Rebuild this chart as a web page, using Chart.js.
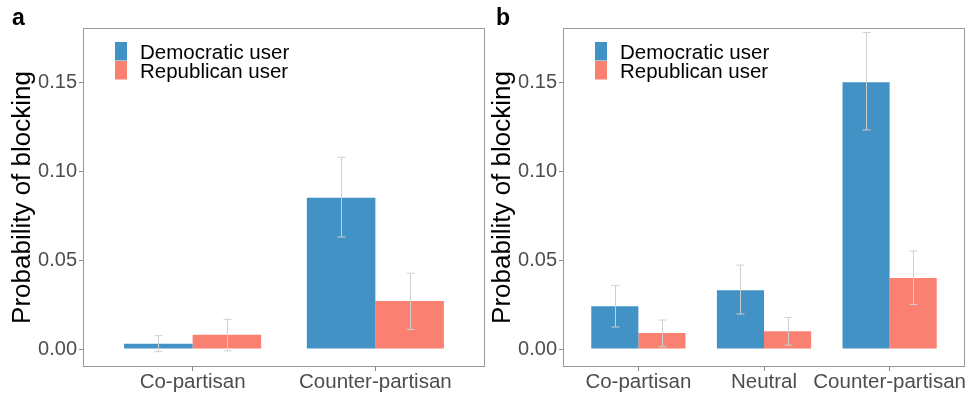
<!DOCTYPE html>
<html>
<head>
<meta charset="utf-8">
<script src="https://cdn.jsdelivr.net/npm/chart.js@4"></script>
<style>
  body { margin: 0; background: #fff; }
  #wrap { position: relative; width: 968px; height: 393px; overflow: hidden; }
  .panel { position: absolute; top: 0; width: 488px; height: 393px; }
  .tag { position: absolute; top: 4px; font: bold 23px "Liberation Sans", Arial, sans-serif; color: #000; }
</style>
</head>
<body>
<div id="wrap">
  <div class="panel" style="left:0px"><canvas id="chartA"></canvas></div>
  <div class="panel" style="left:480px"><canvas id="chartB"></canvas></div>
  <div class="tag" style="left:12px">a</div>
  <div class="tag" style="left:496px">b</div>
</div>
<script>
// data
const catsA = ['Co-partisan', 'Counter-partisan'];
const demA = [0.003, 0.085];
const demLoA = [-0.0015, 0.063];
const demHiA = [0.0075, 0.1078];
const repA = [0.008, 0.027];
const repLoA = [-0.001, 0.011];
const repHiA = [0.0167, 0.0426];

const catsB = ['Co-partisan', 'Neutral', 'Counter-partisan'];
const demB = [0.024, 0.033, 0.150];
const demLoB = [0.0124, 0.0197, 0.1232];
const demHiB = [0.0358, 0.0472, 0.1779];
const repB = [0.009, 0.010, 0.040];
const repLoB = [0.0013, 0.0022, 0.0251];
const repHiB = [0.0163, 0.0178, 0.0551];

const yTicks = [0, 0.05, 0.10, 0.15];
const seriesNames = ['Democratic user', 'Republican user'];

const blue = '#4292c6';
const salmon = '#fa8072';
const fontFam = '"Liberation Sans", Arial, sans-serif';

// error bars drawn over the bars
const errorBars = {
    id: 'errorBars',
    afterDatasetsDraw(chart) {
        const ctx = chart.ctx;
        const y = chart.scales.y;
        ctx.save();
        ctx.strokeStyle = '#cfcfcf';
        ctx.lineWidth = 1;
        chart.data.datasets.forEach((ds, di) => {
            const meta = chart.getDatasetMeta(di);
            meta.data.forEach((bar, i) => {
                const yLo = y.getPixelForValue(ds.lo[i]);
                const yHi = y.getPixelForValue(ds.hi[i]);
                const x = Math.round(bar.x) + 0.5;
                ctx.beginPath();
                ctx.moveTo(x, yLo); ctx.lineTo(x, yHi);
                ctx.moveTo(x - 4, yLo); ctx.lineTo(x + 4, yLo);
                ctx.moveTo(x - 4, yHi); ctx.lineTo(x + 4, yHi);
                ctx.stroke();
            });
        });
        ctx.restore();
    }
};

// panel border and the legend inside the plot
const panelDecor = {
    id: 'panelDecor',
    afterDraw(chart) {
        const ctx = chart.ctx;
        const a = chart.chartArea;
        ctx.save();
        ctx.strokeStyle = '#999999';
        ctx.lineWidth = 1;
        ctx.strokeRect(Math.round(a.left) + 0.5, Math.round(a.top) + 0.5,
            Math.round(a.right - a.left) - 1, Math.round(a.bottom - a.top) - 1);

        ctx.font = '20.5px ' + fontFam;
        ctx.textBaseline = 'middle';
        ctx.fillStyle = '#000';
        chart.data.datasets.forEach((ds, i) => {
            const bx = a.left + 32;
            const by = a.top + 14 + i * 19;
            ctx.fillStyle = ds.backgroundColor;
            ctx.fillRect(bx, by, 12, 18.5);
            ctx.fillStyle = '#000';
            ctx.fillText(ds.label, bx + 25, by + 11);
        });
        ctx.restore();
    }
};

function makeChart(id, cats, dem, demLo, demHi, rep, repLo, repHi) {
    const ctx = document.getElementById(id).getContext('2d');
    const pts = arr => arr.map((v, i) => ({ x: i + 1, y: v }));
    return new Chart(ctx, {
        type: 'bar',
        data: {
            datasets: [
                { label: seriesNames[0], data: pts(dem), lo: demLo, hi: demHi, backgroundColor: blue, borderWidth: 0 },
                { label: seriesNames[1], data: pts(rep), lo: repLo, hi: repHi, backgroundColor: salmon, borderWidth: 0 }
            ]
        },
        options: {
            responsive: true,
            maintainAspectRatio: false,
            animation: false,
            categoryPercentage: 0.75,
            barPercentage: 1.0,
            layout: { padding: { top: 28, right: 3, bottom: 0, left: 0 } },
            plugins: { legend: { display: false }, tooltip: { enabled: false } },
            scales: {
                x: {
                    type: 'linear',
                    min: 0.4,
                    max: cats.length + 0.6,
                    offset: false,
                    afterBuildTicks: s => { s.ticks = cats.map((c, i) => ({ value: i + 1 })); },
                    afterFit: s => { s.height = 26; },
                    ticks: {
                        callback: v => cats[v - 1],
                        color: '#4d4d4d',
                        font: { family: fontFam, size: 20.5 },
                        padding: -1,
                        maxRotation: 0,
                        autoSkip: false
                    },
                    grid: { offset: false, drawOnChartArea: false, drawTicks: true, tickLength: 4, color: '#888' },
                    border: { display: false }
                },
                y: {
                    min: -0.0101,
                    max: 0.1805,
                    afterBuildTicks: s => { s.ticks = yTicks.map(v => ({ value: v })); },
                    afterFit: s => { s.width = 83; },
                    ticks: {
                        callback: v => v.toFixed(2),
                        color: '#4d4d4d',
                        font: { family: fontFam, size: 20 },
                        padding: 2
                    },
                    grid: { drawOnChartArea: false, drawTicks: true, tickLength: 4, color: '#888' },
                    border: { display: false },
                    title: {
                        display: true,
                        text: 'Probability of blocking',
                        color: '#000',
                        font: { family: fontFam, size: 26 },
                        padding: { top: 7, bottom: 0 }
                    }
                }
            }
        },
        plugins: [errorBars, panelDecor]
    });
}

makeChart('chartA', catsA, demA, demLoA, demHiA, repA, repLoA, repHiA);
makeChart('chartB', catsB, demB, demLoB, demHiB, repB, repLoB, repHiB);
</script>
</body>
</html>
